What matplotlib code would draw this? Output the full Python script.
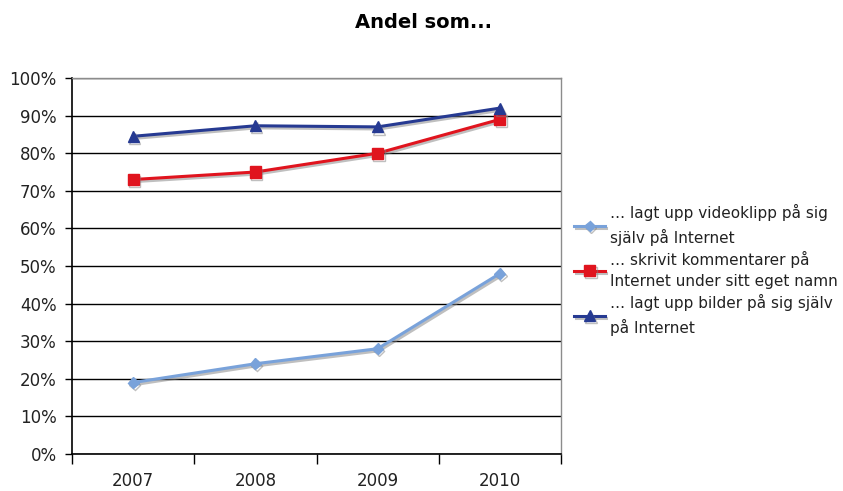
import matplotlib
matplotlib.use("Agg")
import matplotlib.pyplot as plt
import matplotlib.patheffects as pe
from matplotlib.ticker import FixedLocator

plt.rcParams['font.family'] = ['DejaVu Sans']

years = ["2007", "2008", "2009", "2010"]
video = [19, 24, 28, 48]
comments = [73, 75, 80, 89]
pictures = [84.5, 87.3, 87, 92]
labels = ["… lagt upp videoklipp på sig\nsjälv på Internet",
          "… skrivit kommentarer på\nInternet under sitt eget namn",
          "… lagt upp bilder på sig själv\npå Internet"]
yticks = list(range(0, 101, 10))

fig = plt.figure(figsize=(8.43, 4.91), dpi=100)
ax = fig.add_axes([0.0854, 0.0754, 0.5801, 0.7657])

x = list(range(len(years)))
shadow = [pe.SimpleLineShadow(offset=(1, -1.5), shadow_color='#808080', alpha=0.5), pe.Normal()]
ax.plot(x, video, color='#79A2DA', lw=2.2, marker='D', ms=5.5, label=labels[0], path_effects=shadow)
ax.plot(x, comments, color='#E0141E', lw=2.2, marker='s', ms=8, label=labels[1], path_effects=shadow)
ax.plot(x, pictures, color='#263A92', lw=2.2, marker='^', ms=8, label=labels[2], path_effects=shadow)

ax.set_xlim(-0.5, 3.5)
ax.set_ylim(0, 100)
ax.set_yticks(yticks)
ax.set_yticklabels([f"{v}%" for v in yticks], fontsize=12, color='#222222')
ax.yaxis.grid(True, color='black', lw=1)
ax.set_axisbelow(True)
ax.set_xticks(x)
ax.set_xticklabels(years, fontsize=12, color='#222222')
ax.tick_params(axis='x', length=0, pad=13)
ax.xaxis.set_minor_locator(FixedLocator([-0.5, 0.5, 1.5, 2.5, 3.5]))
ax.tick_params(axis='x', which='minor', length=7, width=1, color='black')
ax.tick_params(axis='y', length=5, width=1, color='black', pad=6)
for s in ['top', 'right']:
    ax.spines[s].set_color('#8C8C8C')
    ax.spines[s].set_linewidth(1)
for s in ['left', 'bottom']:
    ax.spines[s].set_color('black')
    ax.spines[s].set_linewidth(1.2)

fig.text(0.502, 0.955, "Andel som...", ha='center', va='center', fontsize=14, fontweight='bold')

leg = fig.legend(loc='upper left', bbox_to_anchor=(0.674, 0.596), frameon=False, fontsize=11,
                 handlelength=2.0, labelspacing=0.3, handletextpad=0.35, borderaxespad=0)
for t in leg.get_texts():
    t.set_linespacing(1.55)
    t.set_color('#222222')

fig.savefig("out.png", dpi=100)
